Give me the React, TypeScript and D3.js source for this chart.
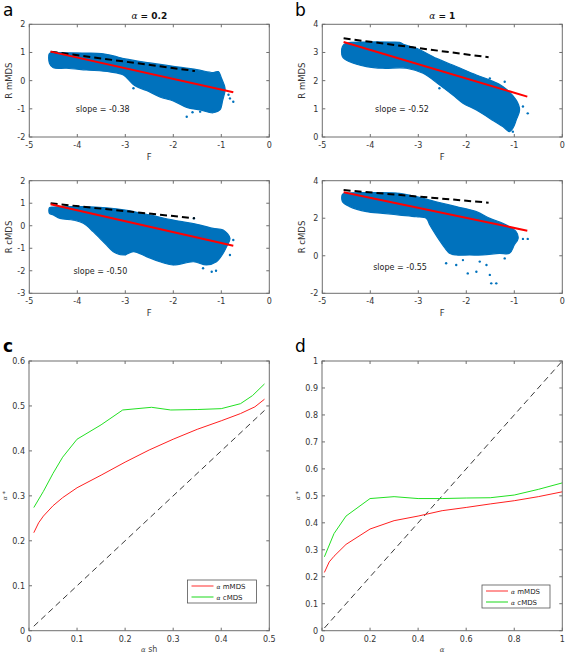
import React from 'react';
import * as d3 from 'd3';

const FONT = 'DejaVu Sans, sans-serif';
const SERIF = 'DejaVu Serif, Liberation Serif, serif';
const BLUE = '#0072BD';
const AXIS = '#6e6e6e';
const TXT = '#333';

// ---------- scatter panels: F axis ----------
const fTicks = [-5, -4, -3, -2, -1, 0];

// panel a (alpha = 0.2), mMDS
const cloudA_m: [number, number][] = [
  [-4.58, 0.97], [-4.5, 0.99], [-4.22, 0.99], [-3.8, 0.98], [-3.5, 0.96], [-3.25, 0.88], [-3.0, 0.77],
  [-2.49, 0.63], [-2.0, 0.51], [-1.51, 0.39], [-1.17, 0.29], [-1.06, 0.32], [-1.0, 0.1], [-0.93, -0.2],
  [-0.92, -0.33], [-0.97, -0.69], [-1.03, -1.04], [-1.17, -1.14], [-1.44, -1.04], [-1.72, -0.95],
  [-2.0, -0.72], [-2.28, -0.58], [-2.56, -0.35], [-2.76, -0.22], [-2.87, -0.08], [-3.04, 0.2],
  [-3.32, 0.31], [-3.81, 0.38], [-4.22, 0.44], [-4.5, 0.46], [-4.58, 0.62],
];
const outA_m: [number, number][] = [
  [-1.72, -1.28], [-1.44, -1.1], [-0.82, -0.63], [-0.75, -0.75], [-0.85, -0.5], [-1.17, -1.04],
  [-2.83, -0.27], [-1.51, 0.26], [-1.6, -1.12],
];
const dashA_m: [number, number][] = [[-4.556, 1.03], [-1.55, 0.343]];
const fitA_m: [number, number][] = [[-4.556, 1.03], [-0.75, -0.414]];

// panel b (alpha = 1), mMDS
const cloudB_m: [number, number][] = [
  [-4.58, 3.21], [-4.5, 3.33], [-4.08, 3.37], [-3.6, 3.37], [-3.39, 3.36], [-3.28, 3.27], [-3.04, 3.15],
  [-2.62, 2.79], [-2.21, 2.5], [-1.79, 2.2], [-1.51, 2.02], [-1.24, 1.79], [-0.96, 1.31], [-0.89, 0.96],
  [-0.96, 0.6], [-1.03, 0.31], [-1.1, 0.19], [-1.24, 0.37], [-1.51, 0.66], [-1.79, 0.96], [-2.07, 1.2],
  [-2.28, 1.49], [-2.56, 1.85], [-2.9, 2.26], [-3.25, 2.44], [-3.74, 2.44], [-4.08, 2.5], [-4.43, 2.67],
  [-4.58, 2.85],
];
const outB_m: [number, number][] = [
  [-0.72, 0.84], [-0.82, 1.08], [-1.03, 0.19], [-1.51, 2.08], [-1.2, 1.96], [-2.56, 1.73], [-1.15, 0.3],
];
const dashB_m: [number, number][] = [[-4.556, 3.503], [-1.535, 2.83]];
const fitB_m: [number, number][] = [[-4.556, 3.373], [-0.729, 1.432]];

// panel a (alpha = 0.2), cMDS
const cloudA_c: [number, number][] = [
  [-4.58, 0.8], [-4.5, 0.83], [-3.875, 0.85], [-3.39, 0.8], [-3.0, 0.7], [-2.49, 0.48], [-2.0, 0.25],
  [-1.44, 0.03], [-1.17, -0.12], [-0.96, -0.19], [-0.82, -0.56], [-0.89, -0.93], [-0.96, -1.22],
  [-1.1, -1.6], [-1.31, -1.74], [-1.58, -1.6], [-2.0, -1.74], [-2.28, -1.6], [-2.56, -1.37],
  [-2.83, -1.15], [-3.04, -1.3], [-3.25, -1.15], [-3.39, -0.86], [-3.53, -0.56], [-3.67, -0.26],
  [-3.875, 0.11], [-4.08, 0.25], [-4.36, 0.33], [-4.5, 0.48], [-4.58, 0.55],
];
const outA_c: [number, number][] = [
  [-1.2, -2.04], [-1.11, -2.0], [-1.38, -1.89], [-0.75, -0.63], [-0.82, -1.3], [-3.0, -1.27],
  [-2.35, -1.45], [-3.25, -1.08], [-2.0, -1.7], [-1.57, 0.33],
];
const dashA_c: [number, number][] = [[-4.556, 0.994], [-1.55, 0.328]];
const fitA_c: [number, number][] = [[-4.556, 0.95], [-0.75, -0.885]];

// panel b (alpha = 1), cMDS
const cloudB_c: [number, number][] = [
  [-4.58, 3.27], [-4.5, 3.33], [-4.08, 3.36], [-3.39, 3.33], [-3.04, 3.15], [-2.63, 2.88], [-2.21, 2.62],
  [-1.79, 2.35], [-1.51, 1.99], [-1.24, 1.73], [-0.96, 1.28], [-0.92, 0.93], [-1.0, 0.57], [-1.1, 0.13],
  [-1.31, 0.13], [-1.65, 0.04], [-1.93, 0.04], [-2.21, 0.04], [-2.35, 0.13], [-2.49, 0.57],
  [-2.63, 1.1], [-2.76, 1.64], [-2.83, 1.99], [-3.04, 2.08], [-3.39, 2.17], [-3.74, 2.26],
  [-4.08, 2.35], [-4.43, 2.62], [-4.58, 2.88],
];
const outB_c: [number, number][] = [
  [-2.42, -0.4], [-2.21, -0.49], [-1.97, -0.94], [-1.79, -0.85], [-1.72, -0.31], [-1.58, -0.49],
  [-1.51, -1.02], [-1.375, -1.47], [-1.48, -1.47], [-1.2, -0.14], [-0.82, 0.9], [-0.72, 0.9], [-2.07, -0.23],
];
const dashB_c: [number, number][] = [[-4.556, 3.5], [-1.535, 2.83]];
const fitB_c: [number, number][] = [[-4.556, 3.38], [-0.729, 1.337]];

// ---------- line panels ----------
const cTicksX = [0, 0.1, 0.2, 0.3, 0.4, 0.5];
const cTicksY = [0, 0.1, 0.2, 0.3, 0.4, 0.5, 0.6];
const cRedX = [0.01, 0.02, 0.03, 0.05, 0.07, 0.1, 0.15, 0.2, 0.25, 0.3, 0.35, 0.4, 0.44, 0.47, 0.49];
const cRedY = [0.218, 0.24, 0.255, 0.278, 0.296, 0.318, 0.346, 0.375, 0.402, 0.426, 0.448, 0.467, 0.483, 0.498, 0.515];
const cGreenX = [0.01, 0.03, 0.05, 0.07, 0.1, 0.15, 0.195, 0.255, 0.295, 0.35, 0.4, 0.44, 0.465, 0.49];
const cGreenY = [0.274, 0.31, 0.35, 0.386, 0.426, 0.458, 0.491, 0.497, 0.491, 0.492, 0.494, 0.505, 0.523, 0.549];
const cDiag = [0.01, 0.49];

const dTicksX = [0, 0.2, 0.4, 0.6, 0.8, 1];
const dTicksY = [0, 0.1, 0.2, 0.3, 0.4, 0.5, 0.6, 0.7, 0.8, 0.9, 1];
const dRedX = [0.01, 0.03, 0.05, 0.1, 0.2, 0.3, 0.4, 0.5, 0.6, 0.7, 0.8, 0.9, 1.0];
const dRedY = [0.216, 0.255, 0.276, 0.32, 0.377, 0.408, 0.425, 0.445, 0.457, 0.47, 0.482, 0.497, 0.515];
const dGreenX = [0.01, 0.05, 0.1, 0.2, 0.3, 0.4, 0.5, 0.6, 0.7, 0.8, 0.9, 1.0];
const dGreenY = [0.274, 0.36, 0.425, 0.49, 0.497, 0.49, 0.49, 0.492, 0.493, 0.503, 0.524, 0.548];
const dDiag = [0.01, 1.0];

type Box = { x0: number; x1: number; y0: number; y1: number };

const fmt = (v: number) => (v < 0 ? '-' + String(Math.abs(v)) : String(v));

function Frame({ box, xs, ys, xTicks, yTicks, tickFmtX, tickFmtY }: any) {
  const tl = 3;
  return (
    <g>
      <rect x={box.x0} y={box.y0} width={box.x1 - box.x0} height={box.y1 - box.y0} fill="none" stroke={AXIS} strokeWidth={1} />
      {xTicks.map((t: number) => (
        <g key={'x' + t}>
          <line x1={xs(t)} x2={xs(t)} y1={box.y1} y2={box.y1 - tl} stroke={AXIS} />
          <line x1={xs(t)} x2={xs(t)} y1={box.y0} y2={box.y0 + tl} stroke={AXIS} />
          <text x={xs(t)} y={box.y1 + 11} textAnchor="middle" fontSize={8} fontFamily={FONT} fill={TXT}>
            {tickFmtX(t)}
          </text>
        </g>
      ))}
      {yTicks.map((t: number) => (
        <g key={'y' + t}>
          <line x1={box.x0} x2={box.x0 + tl} y1={ys(t)} y2={ys(t)} stroke={AXIS} />
          <line x1={box.x1} x2={box.x1 - tl} y1={ys(t)} y2={ys(t)} stroke={AXIS} />
          <text x={box.x0 - 4} y={ys(t) + 3} textAnchor="end" fontSize={8} fontFamily={FONT} fill={TXT}>
            {tickFmtY(t)}
          </text>
        </g>
      ))}
    </g>
  );
}

function ScatterPanel({ id, box, yDomain, yTicks, ylabel, cloud, outliers, dash, fit, slope, slopeAt, title }: any) {
  const xs = d3.scaleLinear().domain([-5, 0]).range([box.x0, box.x1]);
  const ys = d3.scaleLinear().domain(yDomain).range([box.y1, box.y0]);
  const area = d3
    .line<[number, number]>()
    .x((d) => xs(d[0]))
    .y((d) => ys(d[1]))
    .curve(d3.curveCatmullRomClosed.alpha(0.5));
  const ln = d3
    .line<[number, number]>()
    .x((d) => xs(d[0]))
    .y((d) => ys(d[1]));
  const cx = (box.x0 + box.x1) / 2;
  return (
    <g>
      <defs>
        <clipPath id={'clip' + id}>
          <rect x={box.x0} y={box.y0} width={box.x1 - box.x0} height={box.y1 - box.y0} />
        </clipPath>
      </defs>
      <g clipPath={`url(#clip${id})`}>
        <path d={area(cloud) || ''} fill={BLUE} stroke={BLUE} strokeWidth={1.2} />
        {outliers.map((p: [number, number], i: number) => (
          <circle key={i} cx={xs(p[0])} cy={ys(p[1])} r={1.2} fill={BLUE} />
        ))}
        <path d={ln(dash) || ''} fill="none" stroke="#000" strokeWidth={2} strokeDasharray="7,4" />
        <path d={ln(fit) || ''} fill="none" stroke="#ff0000" strokeWidth={2} />
      </g>
      <Frame box={box} xs={xs} ys={ys} xTicks={fTicks} yTicks={yTicks} tickFmtX={fmt} tickFmtY={fmt} />
      <text x={xs(slopeAt[0])} y={ys(slopeAt[1])} fontSize={8} fontFamily={FONT} fill="#222">
        {slope}
      </text>
      <text x={cx} y={box.y1 + 23} textAnchor="middle" fontSize={8.5} fontFamily={FONT} fill={TXT}>
        F
      </text>
      <text
        transform={`translate(${box.x0 - 17},${(box.y0 + box.y1) / 2}) rotate(-90)`}
        textAnchor="middle"
        fontSize={8.5}
        fontFamily={FONT}
        fill={TXT}
      >
        {ylabel}
      </text>
      {title && (
        <text x={cx} y={box.y0 - 5} textAnchor="middle" fontSize={9} fontFamily={FONT} fontWeight="bold" fill="#111">
          <tspan fontFamily={SERIF} fontStyle="italic" fontWeight="normal">α</tspan>
          <tspan> = {title}</tspan>
        </text>
      )}
    </g>
  );
}

function LinePanel({ box, xDomain, yDomain, xTicks, yTicks, redX, redY, greenX, greenY, diag, xlabel, legendAt, tickFmtX }: any) {
  const xs = d3.scaleLinear().domain(xDomain).range([box.x0, box.x1]);
  const ys = d3.scaleLinear().domain(yDomain).range([box.y1, box.y0]);
  const path = (X: number[], Y: number[]) =>
    d3
      .line<number>()
      .x((d) => xs(d))
      .y((_, i) => ys(Y[i]))(X) || '';
  const lx = legendAt[0];
  const ly = legendAt[1];
  const lw = legendAt[2];
  return (
    <g>
      <path d={path(diag, diag)} fill="none" stroke="#222" strokeWidth={0.9} strokeDasharray="6,4" />
      <path d={path(redX, redY)} fill="none" stroke="#ff2020" strokeWidth={1} />
      <path d={path(greenX, greenY)} fill="none" stroke="#22e022" strokeWidth={1} />
      <Frame box={box} xs={xs} ys={ys} xTicks={xTicks} yTicks={yTicks} tickFmtX={tickFmtX} tickFmtY={(v: number) => String(v)} />
      <g>
        <rect x={lx} y={ly} width={lw} height={23} fill="#fff" stroke="#555" strokeWidth={0.8} />
        <line x1={lx + 4} x2={lx + 26} y1={ly + 6} y2={ly + 6} stroke="#ff5050" strokeWidth={1.2} />
        <line x1={lx + 4} x2={lx + 26} y1={ly + 17} y2={ly + 17} stroke="#40e040" strokeWidth={1.2} />
        <text x={lx + 29} y={ly + 8.5} fontSize={7} fontFamily={FONT} fill="#222">
          <tspan fontFamily={SERIF} fontStyle="italic" fontSize={6}>α</tspan> mMDS
        </text>
        <text x={lx + 29} y={ly + 19.5} fontSize={7} fontFamily={FONT} fill="#222">
          <tspan fontFamily={SERIF} fontStyle="italic" fontSize={6}>α</tspan> cMDS
        </text>
      </g>
      <text x={(box.x0 + box.x1) / 2} y={box.y1 + 21} textAnchor="middle" fontSize={8} fontFamily={FONT} fill="#444">
        <tspan fontFamily={SERIF} fontStyle="italic" fontSize={7}>α</tspan>
        {xlabel}
      </text>
      <text
        transform={`translate(${box.x0 - 22},${(box.y0 + box.y1) / 2}) rotate(-90)`}
        textAnchor="middle"
        fontSize={6}
        fontFamily={SERIF}
        fill="#444"
      >
        <tspan fontStyle="italic">α</tspan> *
      </text>
    </g>
  );
}

export default function App() {
  const boxTL: Box = { x0: 29.3, x1: 269.3, y0: 24.3, y1: 137 };
  const boxTR: Box = { x0: 322.3, x1: 562.3, y0: 24.3, y1: 137 };
  const boxML: Box = { x0: 29.3, x1: 269.3, y0: 180.7, y1: 293.3 };
  const boxMR: Box = { x0: 322.3, x1: 562.3, y0: 180.7, y1: 293.3 };
  const boxC: Box = { x0: 29, x1: 269.3, y0: 361, y1: 630.7 };
  const boxD: Box = { x0: 322, x1: 562.3, y0: 361, y1: 630.7 };
  return (
    <svg width={566} height={656} style={{ position: 'absolute', left: 0, top: 0, background: '#fff' }}>
      <rect x={0} y={0} width={566} height={656} fill="#fff" />
      <ScatterPanel id="a1" box={boxTL} yDomain={[-2, 2]} yTicks={[-2, -1, 0, 1, 2]} ylabel="R mMDS"
        cloud={cloudA_m} outliers={outA_m} dash={dashA_m} fit={fitA_m} slope="slope = -0.38" slopeAt={[-4.03, -1.1]} title="0.2" />
      <ScatterPanel id="b1" box={boxTR} yDomain={[0, 4]} yTicks={[0, 1, 2, 3, 4]} ylabel="R mMDS"
        cloud={cloudB_m} outliers={outB_m} dash={dashB_m} fit={fitB_m} slope="slope = -0.52" slopeAt={[-3.9, 0.9]} title="1" />
      <ScatterPanel id="a2" box={boxML} yDomain={[-3, 2]} yTicks={[-3, -2, -1, 0, 1, 2]} ylabel="R cMDS"
        cloud={cloudA_c} outliers={outA_c} dash={dashA_c} fit={fitA_c} slope="slope = -0.50" slopeAt={[-4.08, -2.15]} />
      <ScatterPanel id="b2" box={boxMR} yDomain={[-2, 4]} yTicks={[-2, 0, 2, 4]} ylabel="R cMDS"
        cloud={cloudB_c} outliers={outB_c} dash={dashB_c} fit={fitB_c} slope="slope = -0.55" slopeAt={[-3.94, -0.75]} />
      <LinePanel box={boxC} xDomain={[0, 0.5]} yDomain={[0, 0.6]} xTicks={cTicksX} yTicks={cTicksY}
        redX={cRedX} redY={cRedY} greenX={cGreenX} greenY={cGreenY} diag={cDiag} xlabel=" sh"
        legendAt={[187.5, 580, 69]} tickFmtX={(v: number) => String(v)} />
      <LinePanel box={boxD} xDomain={[0, 1]} yDomain={[0, 1]} xTicks={dTicksX} yTicks={dTicksY}
        redX={dRedX} redY={dRedY} greenX={dGreenX} greenY={dGreenY} diag={dDiag} xlabel=""
        legendAt={[482, 585, 68]} tickFmtX={(v: number) => String(v)} />
      <text x={3} y={16} fontSize={17} fontFamily={FONT} fill="#000">a</text>
      <text x={295} y={16} fontSize={17} fontFamily={FONT} fill="#000">b</text>
      <text x={3} y={352} fontSize={17} fontFamily={FONT} fontWeight="bold" fill="#000">c</text>
      <text x={295} y={352} fontSize={17} fontFamily={FONT} fill="#000">d</text>
    </svg>
  );
}
